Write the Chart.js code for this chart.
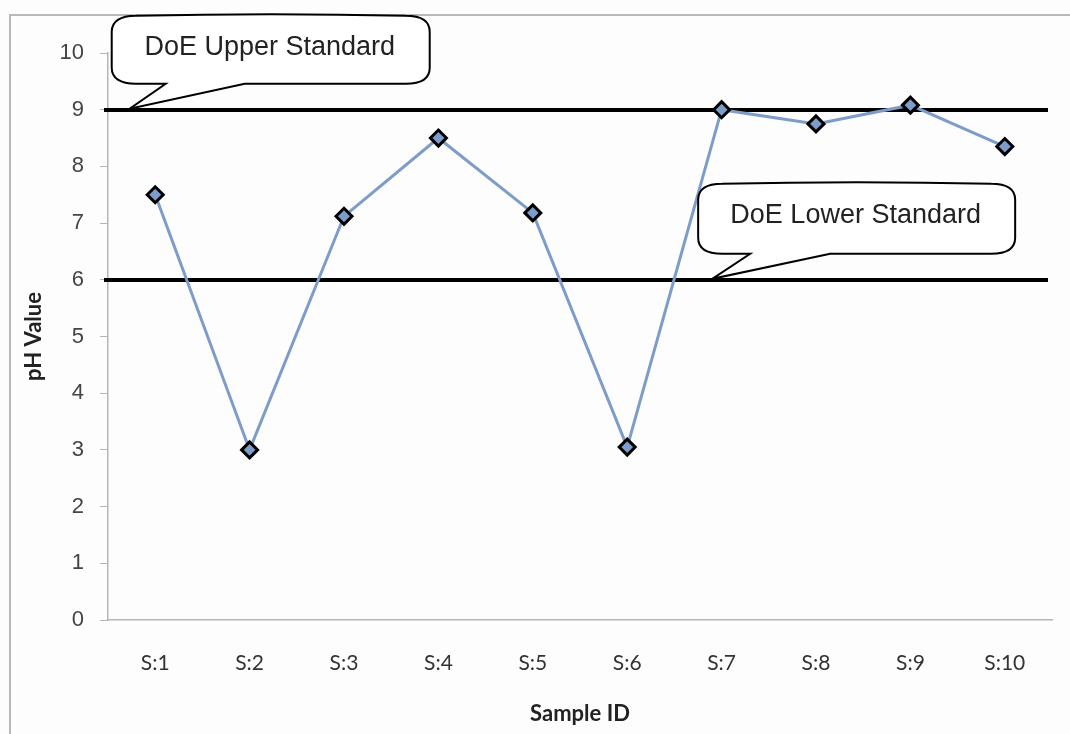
<!DOCTYPE html>
<html>
<head>
<meta charset="utf-8">
<script src="https://cdn.jsdelivr.net/npm/chart.js@4.4.0/dist/chart.umd.min.js"></script>
<style>
  html, body { margin: 0; padding: 0; background: #fff; }
  #wrap { position: relative; width: 1070px; height: 734px; }
</style>
</head>
<body>
<div id="wrap"><canvas id="myChart" width="1070" height="734"></canvas></div>
<script>
// chart values
const sampleIds = ['S:1', 'S:2', 'S:3', 'S:4', 'S:5', 'S:6', 'S:7', 'S:8', 'S:9', 'S:10'];
const phValues = [7.5, 3.0, 7.12, 8.5, 7.18, 3.05, 9.0, 8.75, 9.08, 8.35];
const yTickValues = [0, 1, 2, 3, 4, 5, 6, 7, 8, 9, 10];
const standardValues = [9, 6];
const standardNames = ['DoE Upper Standard', 'DoE Lower Standard'];
// where each callout tail points (category index position on x axis)
const calloutAt = [-0.27, 5.9];

window.onload = () => {

    // frame + background
    const framePlugin = {
        id: 'frame',
        beforeDraw(chart) {
            const ctx = chart.ctx
            ctx.save()
            ctx.fillStyle = '#fdfdfd'
            ctx.fillRect(0, 0, chart.width, chart.height)
            ctx.strokeStyle = '#b9b9b9'
            ctx.lineWidth = 2
            ctx.beginPath()
            ctx.moveTo(10, chart.height)
            ctx.lineTo(10, 15)
            ctx.lineTo(chart.width, 15)
            ctx.stroke()
            ctx.restore()
        }
    }

    // the two black standard lines
    const standardsPlugin = {
        id: 'standards',
        beforeDatasetsDraw(chart) {
            const ctx = chart.ctx
            const y = chart.scales.y
            const area = chart.chartArea
            ctx.save()
            ctx.strokeStyle = '#000'
            ctx.lineWidth = 4
            standardValues.forEach(v => {
                const py = Math.round(y.getPixelForValue(v))
                ctx.beginPath()
                ctx.moveTo(area.left - 4, py)
                ctx.lineTo(area.right - 4, py)
                ctx.stroke()
            })
            ctx.restore()
        }
    }

    // speech bubble callouts
    const calloutPlugin = {
        id: 'callouts',
        afterDraw(chart) {
            const ctx = chart.ctx
            const xs = chart.scales.x
            const ys = chart.scales.y
            const boxes = [
                { dx: -18, dy: -93, w: 318, h: 68, t1: 54, t2: 133 },
                { dx: -14, dy: -95, w: 317, h: 70, t1: 52, t2: 132 }
            ]
            standardValues.forEach((v, i) => {
                const tx = xs.getPixelForValue(calloutAt[i])
                const ty = ys.getPixelForValue(v) - 1
                const b = boxes[i]
                const x = tx + b.dx, y = ty + b.dy, w = b.w, h = b.h
                const rx = 24, ry = 16, k = 0.35
                ctx.save()
                ctx.beginPath()
                ctx.moveTo(x + rx, y)
                ctx.quadraticCurveTo(x + w / 2, y - 3, x + w - rx, y)
                ctx.bezierCurveTo(x + w - rx * k, y, x + w, y + ry * k, x + w, y + ry)
                ctx.lineTo(x + w, y + h - ry)
                ctx.bezierCurveTo(x + w, y + h - ry * k, x + w - rx * k, y + h, x + w - rx, y + h)
                ctx.lineTo(x + b.t2, y + h)
                ctx.lineTo(tx, ty)
                ctx.lineTo(x + b.t1, y + h)
                ctx.lineTo(x + rx, y + h)
                ctx.bezierCurveTo(x + rx * k, y + h, x, y + h - ry * k, x, y + h - ry)
                ctx.lineTo(x, y + ry)
                ctx.bezierCurveTo(x, y + ry * k, x + rx * k, y, x + rx, y)
                ctx.closePath()
                ctx.fillStyle = '#fff'
                ctx.fill()
                ctx.strokeStyle = '#000'
                ctx.lineWidth = 2
                ctx.stroke()
                ctx.fillStyle = '#222'
                ctx.font = '27px "Liberation Sans", Arial, sans-serif'
                ctx.textAlign = 'center'
                ctx.textBaseline = 'middle'
                ctx.fillText(standardNames[i], x + w / 2 - 1, y + 32)
                ctx.restore()
            })
        }
    }

    const ctx = document.getElementById('myChart').getContext('2d')
    const myChart = new Chart(ctx, {
        type: 'line',
        data: {
            labels: sampleIds,
            datasets: [{
                label: 'pH',
                data: phValues,
                borderColor: '#7d9cc9',
                borderWidth: 3,
                tension: 0,
                pointStyle: 'rectRot',
                pointRadius: 8,
                pointBackgroundColor: '#7d9cc9',
                pointBorderColor: '#000',
                pointBorderWidth: 3
            }]
        },
        plugins: [framePlugin, standardsPlugin, calloutPlugin],
        options: {
            responsive: false,
            animation: false,
            layout: { padding: { top: 53, right: 18, left: 0, bottom: 0 } },
            plugins: {
                legend: { display: false },
                tooltip: { enabled: false }
            },
            scales: {
                x: {
                    offset: true,
                    grid: { display: false, drawTicks: false },
                    border: { display: true, color: '#b5b5b5', width: 1.5 },
                    ticks: {
                        color: '#333',
                        font: { family: 'Lato', size: 21 },
                        padding: 31,
                        maxRotation: 0
                    },
                    title: {
                        display: true,
                        text: 'Sample ID',
                        color: '#222',
                        font: { family: 'Lato', size: 22, weight: 'bold' },
                        padding: { top: 0, bottom: 7 }
                    },
                    afterFit: s => { s.height = 114 }
                },
                y: {
                    min: 0,
                    max: 10,
                    afterBuildTicks: s => { s.ticks = yTickValues.map(v => ({ value: v })) },
                    grid: {
                        drawOnChartArea: false,
                        drawTicks: true,
                        tickLength: 8,
                        color: '#b5b5b5'
                    },
                    border: { display: true, color: '#b5b5b5', width: 1.5 },
                    ticks: {
                        color: '#444',
                        font: { family: '"Liberation Sans", Arial', size: 22 },
                        padding: 16
                    },
                    title: {
                        display: true,
                        text: 'pH Value',
                        color: '#222',
                        font: { family: 'Lato', size: 22, weight: 'bold' },
                        padding: { top: 21, bottom: 0 }
                    },
                    afterFit: s => { s.width = 108 }
                }
            }
        }
    })
}
</script>
</body>
</html>
